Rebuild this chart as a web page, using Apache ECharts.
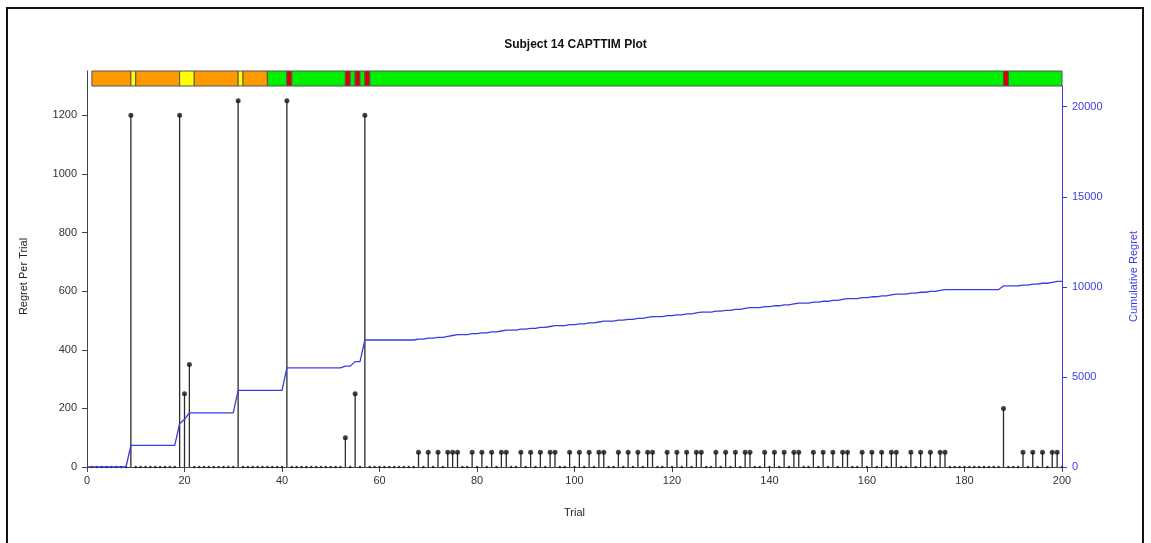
<!DOCTYPE html>
<html>
<head>
<meta charset="utf-8">
<title>Subject 14 CAPTTIM Plot</title>
<script src="https://cdn.jsdelivr.net/npm/echarts@6/dist/echarts.min.js"></script>
<style>
  html, body { margin: 0; padding: 0; background: #fff; }
  #chart { width: 1151px; height: 543px; }
</style>
</head>
<body>
<div id="chart"></div>
<script>
// trials that had a non-zero regret, and that regret
const regretTrials = [9, 19, 20, 21, 31, 41, 53, 55, 57,
  68, 70, 72, 74, 75, 76,
  79, 81, 83, 85, 86,
  89, 91, 93, 95, 96,
  99, 101, 103, 105, 106,
  109, 111, 113, 115, 116,
  119, 121, 123, 125, 126,
  129, 131, 133, 135, 136,
  139, 141, 143, 145, 146,
  149, 151, 153, 155, 156,
  159, 161, 163, 165, 166,
  169, 171, 173, 175, 176,
  188,
  192, 194, 196, 198, 199];
const regretValues = [1200, 1200, 250, 350, 1250, 1250, 100, 250, 1200,
  50, 50, 50, 50, 50, 50,
  50, 50, 50, 50, 50,
  50, 50, 50, 50, 50,
  50, 50, 50, 50, 50,
  50, 50, 50, 50, 50,
  50, 50, 50, 50, 50,
  50, 50, 50, 50, 50,
  50, 50, 50, 50, 50,
  50, 50, 50, 50, 50,
  50, 50, 50, 50, 50,
  50, 50, 50, 50, 50,
  200,
  50, 50, 50, 50, 50];
const trialCount = 200;

// phase strip on top: [from trial, to trial, phase]
const phaseStart = [1, 9, 10, 19, 22, 31, 32, 37, 41, 42, 53, 54, 55, 56, 57, 58, 188, 189];
const phaseEnd   = [9, 10, 19, 22, 31, 32, 37, 41, 42, 53, 54, 55, 56, 57, 58, 188, 189, 200];
const phaseKind  = ['explore', 'miss', 'explore', 'miss', 'explore', 'miss', 'explore',
  'exploit', 'error', 'exploit', 'error', 'exploit', 'error', 'exploit', 'error',
  'exploit', 'error', 'exploit'];
const phaseColor = { explore: '#ff9900', miss: '#ffff00', exploit: '#00ee00', error: '#dd0000' };

const xTicks = [0, 20, 40, 60, 80, 100, 120, 140, 160, 180, 200];

// build per-trial series, cumulative regret is the running sum of it
const perTrial = [];
const cumulative = [[0, 0]];
let running = 0;
for (let t = 1; t <= trialCount; t++) {
  const i = regretTrials.indexOf(t);
  const v = i >= 0 ? regretValues[i] : 0;
  perTrial.push([t, v]);
  running += v;
  cumulative.push([t, running]);
}
const phases = phaseStart.map((s, i) => [s, phaseEnd[i], phaseKind[i]]);

const chart = echarts.init(document.getElementById('chart'));
const font = 'Liberation Sans, Arial, sans-serif';
const blue = '#3b3be6';
const plain = v => String(v);

chart.setOption({
  animation: false,
  title: {
    text: 'Subject 14 CAPTTIM Plot',
    left: 'center',
    top: 34,
    textStyle: { fontFamily: font, fontSize: 12, fontWeight: 'bold', color: '#111' }
  },
  graphic: [{
    type: 'rect',
    shape: { x: 7, y: 8, width: 1136, height: 560 },
    style: { fill: 'none', stroke: '#111', lineWidth: 2 },
    silent: true
  }],
  grid: [
    { left: 87, right: 89, top: 86, bottom: 76 },
    { left: 87, right: 89, top: 71, height: 15 }
  ],
  xAxis: [{
    type: 'value', gridIndex: 0, min: 0, max: 200, interval: 20,
    name: 'Trial', nameLocation: 'middle', nameGap: 40,
    nameTextStyle: { fontFamily: font, fontSize: 11, color: '#222' },
    axisLine: { lineStyle: { color: '#444' } },
    axisTick: { length: 5, lineStyle: { color: '#444' } },
    axisLabel: { fontFamily: font, fontSize: 11, color: '#333', margin: 8,
      formatter: v => xTicks.includes(v) ? String(v) : '' },
    splitLine: { show: false }
  }, {
    type: 'value', gridIndex: 1, min: 0, max: 200,
    show: false
  }],
  yAxis: [{
    type: 'value', gridIndex: 0, min: 0, max: 1300, interval: 200,
    name: 'Regret Per Trial', nameLocation: 'middle', nameGap: 58, nameRotate: 90,
    nameTextStyle: { fontFamily: font, fontSize: 11, color: '#222' },
    axisLine: { show: true, lineStyle: { color: '#444' } },
    axisTick: { show: true, length: 5, lineStyle: { color: '#444' } },
    axisLabel: { fontFamily: font, fontSize: 11, color: '#333', margin: 10,
      showMaxLabel: false, formatter: plain },
    splitLine: { show: false }
  }, {
    type: 'value', gridIndex: 0, position: 'right', min: 0, max: 21150, interval: 5000,
    name: 'Cumulative Regret', nameLocation: 'middle', nameGap: 66, nameRotate: 90,
    nameTextStyle: { fontFamily: font, fontSize: 11, color: blue },
    axisLine: { show: true, lineStyle: { color: blue } },
    axisTick: { show: true, length: 5, lineStyle: { color: blue } },
    axisLabel: { fontFamily: font, fontSize: 11, color: blue, margin: 10,
      showMaxLabel: false, formatter: plain },
    splitLine: { show: false }
  }, {
    type: 'value', gridIndex: 1, min: 0, max: 1,
    axisLine: { show: true, lineStyle: { color: '#444' } },
    axisTick: { show: false }, axisLabel: { show: false }, splitLine: { show: false }
  }],
  series: [{
    name: 'Phase',
    type: 'custom',
    xAxisIndex: 1, yAxisIndex: 2,
    data: phases,
    renderItem: (params, api) => {
      const p0 = api.coord([api.value(0), 1]);
      const p1 = api.coord([api.value(1), 0]);
      return {
        type: 'rect',
        shape: { x: p0[0], y: p0[1], width: p1[0] - p0[0], height: p1[1] - p0[1] },
        style: { fill: phaseColor[phases[params.dataIndex][2]], stroke: '#555', lineWidth: 1 }
      };
    }
  }, {
    name: 'Regret stem',
    type: 'bar',
    xAxisIndex: 0, yAxisIndex: 0,
    barWidth: 1.3,
    itemStyle: { color: '#2a2a2a' },
    data: perTrial
  }, {
    name: 'Regret Per Trial',
    type: 'scatter',
    xAxisIndex: 0, yAxisIndex: 0,
    symbol: 'circle',
    symbolSize: v => v[1] > 0 ? 5 : 2.5,
    itemStyle: { color: '#111' },
    data: perTrial
  }, {
    name: 'Cumulative Regret',
    type: 'line',
    xAxisIndex: 0, yAxisIndex: 1,
    showSymbol: false,
    lineStyle: { color: blue, width: 1.3 },
    data: cumulative,
    z: 5
  }]
});
</script>
</body>
</html>
